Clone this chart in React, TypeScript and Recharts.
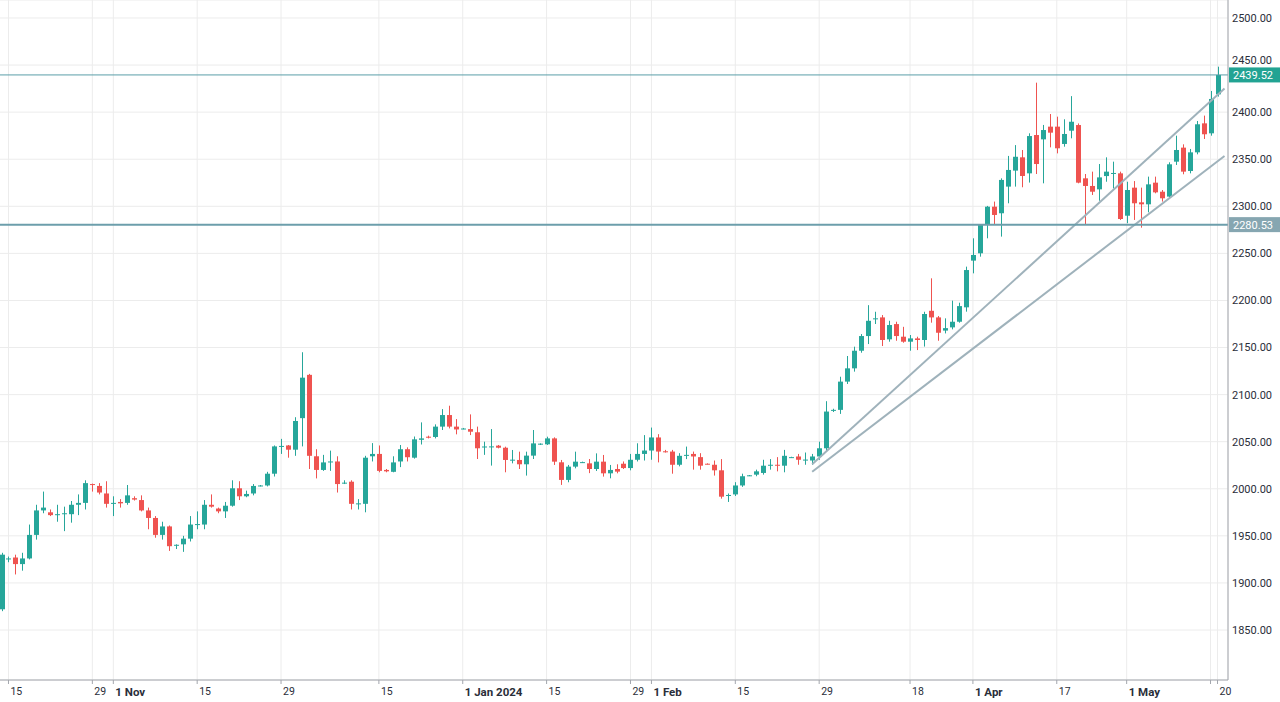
import React from "react";
import {
  ComposedChart,
  Bar,
  XAxis,
  YAxis,
  CartesianGrid,
  ReferenceLine,
} from "recharts";

// daily candles (one per session, oldest first)
const opens = [
  1872, 1925, 1927, 1920, 1926, 1951, 1977, 1975, 1972, 1973,
  1973, 1983, 1985, 2005, 2003, 1995, 1984, 1986, 1985, 1990,
  1988, 1977, 1969, 1951, 1960, 1940, 1941, 1947, 1962, 1962,
  1983, 1979, 1976, 1982, 2000.5, 1992, 1995, 2003, 2003.5, 2016,
  2045, 2046, 2041.5, 2075, 2121, 2034.5, 2020, 2028.5, 2029, 2006,
  2007.5, 1984, 1984, 2034.5, 2037, 2020, 2018, 2029, 2042, 2033,
  2052, 2055.3, 2055, 2066, 2078.3, 2066, 2063.8, 2063.4, 2060, 2044.7,
  2044.7, 2045.8, 2043.6, 2030.6, 2030.6, 2026, 2035.2, 2047.5, 2047.2, 2053.5,
  2028.1, 2009.4, 2023.5, 2028.1, 2027, 2021, 2028.8, 2016.4, 2021, 2026.6,
  2022, 2030.8, 2037, 2040.6, 2054.5, 2039.8, 2039.5, 2025.5, 2035.8, 2037,
  2033.6, 2026.6, 2025.5, 2019.6, 1993, 1994, 2003.5, 2014, 2015, 2016.8,
  2025, 2025.5, 2024.5, 2033.5, 2034.3, 2030.8, 2030, 2034.3, 2043, 2083.5,
  2083.8, 2113.8, 2127.9, 2146.6, 2162.2, 2180.5, 2182, 2158.7, 2174.9, 2161.5,
  2156.2, 2159.7, 2158, 2189, 2182, 2168, 2171.4, 2177.4, 2192.7, 2242.3,
  2250.1, 2280.2, 2299.6, 2292.6, 2320.9, 2337.9, 2352, 2335, 2375.7, 2371.1,
  2384.6, 2384.6, 2366.2, 2380.3, 2386.3, 2329.7, 2321.6, 2318, 2332.1, 2335,
  2335, 2290, 2319.8, 2304.2, 2302.1, 2325.1, 2315.5, 2310.3, 2347.4, 2362.3,
  2337.5, 2357.3, 2388.1, 2377.5, 2418.9,
];

const highs = [
  1932, 1928, 1930, 1932, 1962, 1983, 1997, 1978, 1983, 1981,
  1987, 1994, 2009, 2005.5, 2006, 2008, 1992, 1989, 2004, 1992,
  1993, 1980, 1971, 1965, 1961, 1941, 1950, 1971, 1976, 1988,
  1994, 1980, 1986, 2009, 2008, 1998, 2005, 2004, 2018, 2046,
  2053, 2046.5, 2076, 2145, 2122, 2042, 2036, 2040.5, 2034.5, 2009,
  2009, 1989, 2035, 2048.5, 2046, 2021, 2034.5, 2046.5, 2044, 2055.5,
  2070.5, 2056.4, 2068.4, 2084.6, 2088.2, 2074, 2064.6, 2079, 2066, 2050,
  2063.4, 2046.5, 2044.7, 2041.2, 2039.4, 2039.4, 2062.4, 2048.2, 2055.3, 2054.6,
  2030.6, 2025.3, 2039.4, 2028.8, 2031.6, 2037.6, 2035.9, 2025.3, 2026, 2029,
  2037, 2048.3, 2057, 2065, 2058, 2041.3, 2041.3, 2037.8, 2044.8, 2039.5,
  2037.8, 2027, 2030, 2031.5, 1995, 2007, 2016, 2014.6, 2020.3, 2030.8,
  2031.5, 2033.6, 2041.3, 2034, 2037, 2038.5, 2037, 2050, 2093, 2085,
  2119, 2141, 2150.9, 2164.3, 2195, 2188, 2184.5, 2178.4, 2177.4, 2172,
  2163.3, 2161.5, 2188, 2223.5, 2183.5, 2181, 2199.8, 2197.6, 2235.9, 2266,
  2281, 2300.4, 2305, 2329.7, 2353.5, 2365, 2359.8, 2377.5, 2431.3, 2386.4,
  2398, 2395.2, 2392.4, 2417, 2388, 2334.3, 2336.8, 2344.9, 2352, 2347.4,
  2336.8, 2326.1, 2326.8, 2319.8, 2331.5, 2331.5, 2317.3, 2346.7, 2375, 2365.8,
  2360.9, 2390.6, 2396.3, 2422.5, 2448.3,
];

const lows = [
  1870, 1922, 1909, 1913, 1925, 1946, 1974, 1971, 1965, 1955,
  1964, 1972, 1978, 1997, 1994, 1980, 1971, 1980, 1983, 1987.5,
  1976, 1957, 1948, 1946, 1934, 1936, 1933, 1944, 1957, 1957,
  1980, 1974, 1969, 1981, 1988, 1991, 1993, 2002.5, 2002.5, 2013,
  2037, 2033, 2035, 2045, 2021, 2011, 2019, 2019, 1996, 2005,
  1978, 1978, 1975, 2029, 2017.5, 2017.5, 2017.5, 2023, 2029, 2032,
  2047, 2053.5, 2053.5, 2062.4, 2064.1, 2057.8, 2063.2, 2057, 2031.6, 2036,
  2024.6, 2042.9, 2017.5, 2027, 2021, 2014, 2031.6, 2046.5, 2046.5, 2025.3,
  2004.1, 2006.9, 2021.7, 2027.5, 2016.6, 2018.9, 2012.9, 2011.1, 2016.4, 2021,
  2019.6, 2029, 2030, 2030.8, 2028, 2038.5, 2016, 2023.8, 2031.5, 2020.3,
  2020.3, 2025.8, 2014, 1989.5, 1986, 1992.3, 2002, 2013.5, 2013.3, 2015,
  2020.3, 2018.5, 2017.5, 2033, 2025.5, 2025.5, 2025.5, 2030.8, 2039.5, 2081.5,
  2079.5, 2111.3, 2124.4, 2144.5, 2153.7, 2175, 2151.6, 2156.2, 2157.2, 2155.1,
  2146.6, 2147.3, 2151, 2176.4, 2157.2, 2165, 2169.3, 2176.4, 2188.1, 2228.8,
  2246.5, 2266, 2281.2, 2267.8, 2303.2, 2320.9, 2320.2, 2325.2, 2334.3, 2324.4,
  2362.6, 2356.2, 2363.3, 2372.2, 2324.4, 2281.2, 2312, 2305.9, 2326.1, 2319,
  2285.5, 2282, 2285.5, 2277.3, 2293.6, 2313.8, 2305, 2309.2, 2343.9, 2334,
  2335, 2355.2, 2371.5, 2375, 2416.5,
];

const closes = [
  1930, 1926, 1920, 1926, 1951, 1977, 1980, 1972, 1973, 1974,
  1983, 1985, 2006, 2004, 1996, 1984, 1985, 1984.5, 1993, 1988.5,
  1977, 1969, 1951, 1960, 1939, 1940.5, 1947, 1962, 1962.5, 1983,
  1981, 1976, 1982, 2000.5, 1992, 1994.5, 2003, 2003.5, 2016, 2045,
  2045.5, 2041.5, 2072, 2118, 2035, 2020, 2028, 2029, 2005, 2006.5,
  1984, 1984.5, 2033, 2037, 2019, 2018.5, 2028, 2042, 2033.5, 2052.5,
  2053.5, 2054.2, 2066, 2078.3, 2066, 2063, 2064, 2060.6, 2043, 2044.9,
  2045, 2043.6, 2030.6, 2030.9, 2026, 2035.2, 2048.2, 2047.9, 2053.5, 2028.8,
  2009.4, 2023.5, 2028.8, 2028.3, 2021, 2028.8, 2016.4, 2020, 2018.2, 2022,
  2030.8, 2037, 2040.6, 2054.5, 2039.5, 2039.5, 2025.5, 2035, 2036, 2034.3,
  2024.5, 2026.2, 2019.6, 1991.6, 1993.4, 2003.5, 2013.3, 2014.3, 2018.5, 2024.5,
  2025.5, 2025.3, 2035, 2033.6, 2030.8, 2031, 2034.3, 2043, 2082, 2083.8,
  2113.8, 2127.9, 2146.6, 2162.2, 2178.4, 2181, 2158, 2173.9, 2162.2, 2156.2,
  2159.7, 2158, 2185.6, 2182, 2165.7, 2170.6, 2177.4, 2194, 2232.3, 2248.3,
  2280.2, 2299.6, 2290.8, 2328, 2338.6, 2352.6, 2332.2, 2374.6, 2344.9, 2381,
  2378.2, 2361.6, 2376.8, 2389.8, 2325.1, 2321.6, 2315.5, 2330.7, 2336.8, 2335.4,
  2286.5, 2317.3, 2303.2, 2302.1, 2323.3, 2314.8, 2308.5, 2344.6, 2359.8, 2336.8,
  2357.3, 2387.1, 2376.5, 2414, 2439.52,
];

// date labels on the time axis, at candle positions
const tickIdx = [1, 13, 16, 28, 40, 54, 66, 78, 90, 93, 105, 117, 130, 139, 151, 161, 173, 174];
const tickLabels = ["15", "29", "1 Nov", "15", "29", "15", "1 Jan 2024", "15", "29", "1 Feb", "15", "29", "18", "1 Apr", "17", "1 May", "", "20"];

const priceTicks = [1850, 1900, 1950, 2000, 2050, 2100, 2150, 2200, 2250, 2300, 2350, 2400, 2450, 2500];

// horizontal levels and the two rising trend lines
const lastPrice = 2439.52;
const supportLevel = 2280.53;
const upperTrend = [{ x: 116, y: 2026 }, { x: 175, y: 2425 }];
const lowerTrend = [{ x: 116, y: 2018 }, { x: 175, y: 2353.5 }];

const UP = "#26a69a";
const DOWN = "#ef5350";
const AXIS = "#a3a6ad";
const GRID = "#ececec";
const TEXT = "#2a2e39";

const rows: any[] = opens.map((o, i) => ({ i, o, h: highs[i], l: lows[i], c: closes[i] }));
rows.push({ i: opens.length }); // empty slot on the right edge

const labelOf: Record<number, string> = {};
tickIdx.forEach((t, k) => (labelOf[t] = tickLabels[k]));

function Candle(props: any) {
  const { x, y, width, height, payload } = props;
  if (!payload || payload.h == null) return null;
  const { o, h, l, c } = payload;
  const top = Math.min(y, y + height);
  const span = Math.abs(height);
  const py = (v: number) => top + ((h - v) / (h - l)) * span;
  const color = c >= o ? UP : DOWN;
  const cx = Math.round(x + width / 2) + 0.5;
  const bTop = py(Math.max(o, c));
  const bBot = py(Math.min(o, c));
  return (
    <g>
      <line x1={cx} x2={cx} y1={top} y2={top + span} stroke={color} strokeWidth={1} />
      <rect x={cx - width / 2} y={bTop} width={width} height={Math.max(1, bBot - bTop)} fill={color} />
    </g>
  );
}

function DateTick(props: any) {
  const { x, y, payload } = props;
  const label = labelOf[payload.value] ?? "";
  const bold = label.includes(" ");
  return (
    <text
      x={x + 2}
      y={y}
      dy="0.85em"
      fontSize={bold ? 11.5 : 10.5}
      fontWeight={bold ? 700 : 400}
      fill={TEXT}
    >
      {label}
    </text>
  );
}

function PriceTick(props: any) {
  const { x, y, payload } = props;
  // the last-price tag sits just under 2450, so nudge that label up a little
  const shift = payload.value === 2450 ? -5 : 0;
  return (
    <text x={x} y={y + shift} dy="0.36em" fontSize={11} fill={TEXT} textAnchor="start">
      {Number(payload.value).toFixed(2)}
    </text>
  );
}

function PriceTag(props: any) {
  const { viewBox, bg, text } = props;
  if (!viewBox) return null;
  const x = viewBox.x + viewBox.width;
  const y = viewBox.y;
  return (
    <g>
      <rect x={x + 1} y={y - 7.5} width={52} height={15} fill={bg} />
      <text x={x + 5} y={y} dy="0.36em" fontSize={11} fill="#ffffff">
        {text}
      </text>
    </g>
  );
}

export default function App() {
  return (
    <div
      style={{
        position: "absolute",
        left: -2,
        top: 0,
        width: 1282,
        height: 702,
        background: "#ffffff",
        fontFamily: "Roboto, 'Liberation Sans', sans-serif",
      }}
    >
      <ComposedChart
        width={1282}
        height={702}
        data={rows}
        margin={{ top: 0, right: 0, left: 0, bottom: 0 }}
      >
        <CartesianGrid stroke={GRID} />
        <XAxis
          dataKey="i"
          type="category"
          ticks={tickIdx}
          interval={0}
          tick={<DateTick />}
          tickSize={4}
          tickLine={{ stroke: AXIS }}
          axisLine={{ stroke: AXIS }}
          height={22}
        />
        <YAxis
          orientation="right"
          type="number"
          domain={[1796.9, 2519.1]}
          allowDataOverflow
          ticks={priceTicks}
          interval={0}
          tick={<PriceTick />}
          tickLine={false}
          tickSize={0}
          tickMargin={4}
          axisLine={{ stroke: AXIS }}
          width={52}
        />
        <ReferenceLine
          segment={upperTrend}
          stroke="#9fb2bb"
          strokeWidth={2}
        />
        <ReferenceLine
          segment={lowerTrend}
          stroke="#9fb2bb"
          strokeWidth={2}
        />
        <ReferenceLine
          y={supportLevel}
          stroke="#6c9eab"
          strokeWidth={2}
          label={<PriceTag bg="#86a6b1" text={supportLevel.toFixed(2)} />}
        />
        <ReferenceLine
          y={lastPrice}
          stroke="#5b9fa9"
          strokeWidth={1}
          label={<PriceTag bg="#22a393" text={lastPrice.toFixed(2)} />}
        />
        <Bar
          dataKey={(d: any) => (d.h == null ? null : [d.l, d.h])}
          barSize={5}
          shape={(p: any) => <Candle {...p} />}
          isAnimationActive={false}
        />
      </ComposedChart>
    </div>
  );
}
